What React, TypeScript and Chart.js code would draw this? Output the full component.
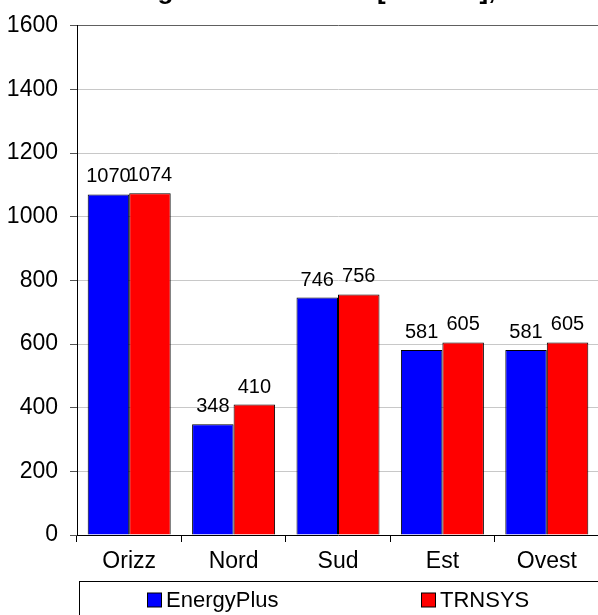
import React, { useEffect, useRef } from "react";
import { Chart, registerables } from "chart.js";

Chart.register(...registerables);

const categories = ["Orizz", "Nord", "Sud", "Est", "Ovest"];
const energyPlus = [1070, 348, 746, 581, 581];
const trnsys = [1074, 410, 756, 605, 605];
const seriesNames = ["EnergyPlus", "TRNSYS"];
const seriesColors = ["#0000FF", "#FF0000"];
const yMin = 0;
const yMax = 1600;
const yStep = 200;
const titleText = "Radiazione globale incidente [kWh/m²], anno";

const FONT = "'Liberation Sans', Arial, Helvetica, sans-serif";
const W = 640;
const H = 680;

const titlePlugin = {
  id: "cutTitle",
  afterDraw(chart: any) {
    const ctx = chart.ctx;
    ctx.save();
    ctx.fillStyle = "#000";
    ctx.font = `bold 26px ${FONT}`;
    ctx.textAlign = "left";
    ctx.textBaseline = "alphabetic";
    ctx.fillText(titleText, 13, -1);
    ctx.restore();
  },
};

const valueLabelPlugin = {
  id: "valueLabels",
  afterDatasetsDraw(chart: any) {
    const ctx = chart.ctx;
    ctx.save();
    ctx.fillStyle = "#000";
    ctx.font = `20px ${FONT}`;
    ctx.textAlign = "center";
    ctx.textBaseline = "alphabetic";
    chart.data.datasets.forEach((ds: any, di: number) => {
      const meta = chart.getDatasetMeta(di);
      meta.data.forEach((bar: any, i: number) => {
        ctx.fillText(String(ds.data[i]), bar.x, bar.y - 12);
      });
    });
    ctx.restore();
  },
};

const boxLegendPlugin = {
  id: "boxLegend",
  afterDraw(chart: any) {
    const ctx = chart.ctx;
    const area = chart.chartArea;
    const boxLeft = area.left + 2.5;
    const boxTop = area.bottom + 46.5;
    ctx.save();
    ctx.strokeStyle = "#000";
    ctx.lineWidth = 1;
    ctx.strokeRect(boxLeft, boxTop, W, 100);
    const itemX = [147, 421];
    const sq = 14;
    const sqTop = boxTop + 11.5;
    ctx.font = `22px ${FONT}`;
    ctx.textBaseline = "middle";
    ctx.textAlign = "left";
    chart.data.datasets.forEach((ds: any, i: number) => {
      const x = itemX[i];
      ctx.fillStyle = ds.backgroundColor;
      ctx.fillRect(x + 0.5, sqTop, sq, sq);
      ctx.strokeStyle = "#000";
      ctx.strokeRect(x + 0.5, sqTop, sq, sq);
      ctx.fillStyle = "#000";
      ctx.fillText(ds.label, x + sq + 5, sqTop + sq / 2 + 0.5);
    });
    ctx.restore();
  },
};

export default function App() {
  const ref = useRef<HTMLCanvasElement | null>(null);

  useEffect(() => {
    if (!ref.current) return;
    const chart = new Chart(ref.current, {
      type: "bar",
      data: {
        labels: categories,
        datasets: [
          {
            label: seriesNames[0],
            data: energyPlus,
            backgroundColor: seriesColors[0],
            borderColor: "#000",
            borderWidth: 1,
            barPercentage: 1,
            categoryPercentage: 0.795,
          },
          {
            label: seriesNames[1],
            data: trnsys,
            backgroundColor: seriesColors[1],
            borderColor: "#000",
            borderWidth: 1,
            barPercentage: 1,
            categoryPercentage: 0.795,
          },
        ],
      },
      options: {
        animation: false,
        responsive: false,
        maintainAspectRatio: false,
        devicePixelRatio: 1,
        layout: { padding: { top: 21, right: W - 599, left: 0, bottom: H - 535 - 60 } },
        plugins: {
          legend: { display: false },
          title: { display: false },
          tooltip: { enabled: false },
        },
        scales: {
          x: {
            type: "category",
            afterFit(scale: any) {
              scale.height = 60;
            },
            grid: {
              offset: true,
              drawOnChartArea: false,
              drawTicks: true,
              tickLength: 7,
              color: "#000",
            },
            border: { display: true, color: "#000", width: 1 },
            ticks: {
              color: "#000",
              font: { family: FONT, size: 23 },
              padding: 6,
              maxRotation: 0,
              autoSkip: false,
            },
          },
          y: {
            min: yMin,
            max: yMax,
            afterFit(scale: any) {
              scale.width = 77;
            },
            grid: {
              color: (c: any) => (c.tick && c.tick.value === yMax ? "#606060" : "#c8c8c8"),
              tickColor: "#555",
              tickLength: 7,
              lineWidth: 1,
            },
            border: { display: true, color: "#000", width: 1 },
            ticks: {
              stepSize: yStep,
              color: "#000",
              font: { family: FONT, size: 23 },
              padding: 12,
              callback: (v: any) => String(v),
            },
          },
        },
      },
      plugins: [valueLabelPlugin, boxLegendPlugin, titlePlugin],
    });
    return () => chart.destroy();
  }, []);

  return (
    <div
      style={{
        position: "fixed",
        left: 0,
        top: 0,
        width: 598,
        height: 615,
        overflow: "hidden",
        background: "#fff",
      }}
    >
      <canvas ref={ref} width={W} height={H} style={{ width: W, height: H, display: "block" }} />
    </div>
  );
}
